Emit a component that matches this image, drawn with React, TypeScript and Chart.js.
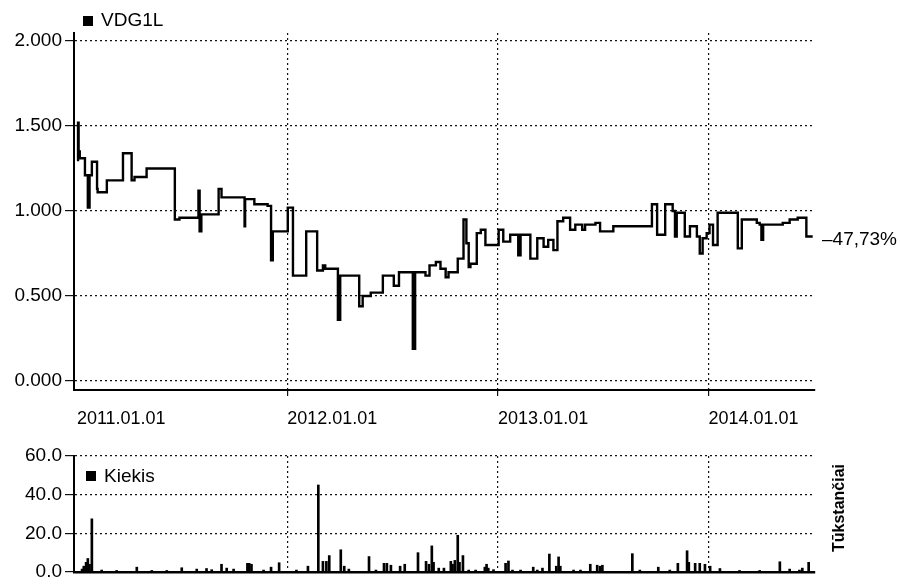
import React, { useEffect, useRef } from "react";
import { Chart, registerables } from "chart.js";

Chart.register(...registerables);

// ---------- data ----------
const seriesName = "VDG1L";
const volumeName = "Kiekis";
const volumeUnit = "Tūkstančiai";
const changeLabel = "\u201347,73%";

const yearTicks = ["2011-01-01", "2012-01-01", "2013-01-01", "2014-01-01"];
const priceTicks = [0, 0.5, 1, 1.5, 2];
const volumeTicks = [0, 20, 40, 60];
const axisStart = "2010-12-27";
const axisEnd = "2014-07-05";

const priceDates = [
  "2011-01-01", "2011-01-03", "2011-01-04", "2011-01-06", "2011-01-15", "2011-01-20", "2011-01-23", "2011-01-27",
  "2011-02-05", "2011-02-06", "2011-02-22", "2011-03-22", "2011-04-06", "2011-04-11", "2011-05-02", "2011-06-20",
  "2011-06-28", "2011-07-31", "2011-08-02", "2011-08-05", "2011-09-04", "2011-09-09", "2011-10-19", "2011-10-20",
  "2011-11-05", "2011-11-28", "2011-12-04", "2011-12-07", "2012-01-02", "2012-01-11", "2012-02-03", "2012-02-22",
  "2012-03-03", "2012-03-07", "2012-03-29", "2012-04-02", "2012-05-05", "2012-05-11", "2012-05-25", "2012-06-15",
  "2012-07-04", "2012-07-13", "2012-08-06", "2012-08-10", "2012-08-28", "2012-09-04", "2012-09-15", "2012-09-23",
  "2012-10-02", "2012-10-07", "2012-10-23", "2012-11-02", "2012-11-07", "2012-11-11", "2012-11-14", "2012-11-25",
  "2012-12-02", "2012-12-10", "2013-01-02", "2013-01-10", "2013-01-22", "2013-02-05", "2013-02-09", "2013-02-26",
  "2013-03-10", "2013-03-21", "2013-03-29", "2013-04-07", "2013-04-14", "2013-04-24", "2013-05-06", "2013-05-15",
  "2013-05-27", "2013-06-01", "2013-06-19", "2013-06-27", "2013-07-20", "2013-09-25", "2013-10-04", "2013-10-18",
  "2013-10-31", "2013-11-04", "2013-11-07", "2013-11-21", "2013-11-30", "2013-12-12", "2013-12-17", "2013-12-22",
  "2013-12-29", "2014-01-03", "2014-01-09", "2014-01-17", "2014-02-21", "2014-02-28", "2014-03-26", "2014-03-31",
  "2014-04-03", "2014-04-06", "2014-05-10", "2014-05-22", "2014-06-05", "2014-06-20", "2014-07-01",
];
const priceValues = [
  1.30, 1.52, 1.35, 1.31, 1.21, 1.02, 1.21, 1.29,
  1.13, 1.11, 1.18, 1.34, 1.18, 1.20, 1.25, 0.95,
  0.96, 1.12, 0.88, 0.98, 1.13, 1.08, 0.91, 1.07,
  1.04, 1.03, 0.71, 0.88, 1.02, 0.62, 0.88, 0.65,
  0.68, 0.66, 0.36, 0.62, 0.44, 0.50, 0.52, 0.62,
  0.56, 0.64, 0.19, 0.64, 0.62, 0.68, 0.70, 0.66,
  0.61, 0.64, 0.72, 0.95, 0.81, 0.67, 0.69, 0.87,
  0.89, 0.80, 0.89, 0.82, 0.86, 0.74, 0.86, 0.72,
  0.84, 0.79, 0.83, 0.77, 0.94, 0.96, 0.89, 0.92,
  0.89, 0.92, 0.93, 0.88, 0.91, 1.04, 0.86, 1.04,
  1.00, 0.85, 0.99, 0.85, 0.91, 0.85, 0.75, 0.84,
  0.87, 0.92, 0.80, 0.99, 0.78, 0.95, 0.93, 0.92,
  0.83, 0.92, 0.93, 0.95, 0.96, 0.85, 0.85,
];

const volumeDates = [
  "2011-01-10", "2011-01-13", "2011-01-17", "2011-01-20", "2011-01-23", "2011-01-27", "2011-02-13", "2011-03-11",
  "2011-04-15", "2011-05-11", "2011-06-06", "2011-07-02", "2011-07-28", "2011-08-14", "2011-08-23", "2011-09-09",
  "2011-09-18", "2011-09-30", "2011-10-24", "2011-10-27", "2011-10-31", "2011-11-21", "2011-12-04", "2011-12-18",
  "2012-01-17", "2012-02-06", "2012-02-24", "2012-03-03", "2012-03-09", "2012-03-14", "2012-04-03", "2012-04-09",
  "2012-04-17", "2012-05-22", "2012-06-03", "2012-06-17", "2012-06-22", "2012-06-29", "2012-07-15", "2012-07-23",
  "2012-08-15", "2012-08-29", "2012-09-03", "2012-09-08", "2012-09-11", "2012-09-20", "2012-09-29", "2012-10-11",
  "2012-10-14", "2012-10-18", "2012-10-23", "2012-10-26", "2012-11-01", "2012-11-11", "2012-11-23", "2012-12-09",
  "2012-12-12", "2012-12-15", "2012-12-24", "2013-01-14", "2013-01-19", "2013-01-26", "2013-02-09", "2013-03-03",
  "2013-03-10", "2013-03-19", "2013-03-31", "2013-04-12", "2013-04-16", "2013-04-19", "2013-05-12", "2013-05-24",
  "2013-06-10", "2013-06-22", "2013-06-27", "2013-07-01", "2013-08-22", "2013-09-04", "2013-10-06", "2013-10-26",
  "2013-11-09", "2013-11-25", "2013-11-28", "2013-12-09", "2013-12-17", "2013-12-26", "2014-01-04", "2014-01-21",
  "2014-02-24", "2014-03-31", "2014-05-05", "2014-05-22", "2014-06-08", "2014-06-13", "2014-06-24",
];
const volumeValues = [
  1.5, 3, 5, 7, 4, 27.5, 1, 0.8,
  2.5, 0.8, 0.8, 2.2, 1.5, 1.8, 1.2, 4,
  2, 1.5, 4.5, 4.5, 4, 1, 2.5, 4.8,
  1, 3, 45, 5.5, 5.5, 8.5, 11.5, 3,
  1.5, 8, 1, 4.5, 4.5, 3.5, 3, 4,
  10, 5.5, 4, 13.5, 5, 2, 2, 5.5,
  4, 6, 19, 5, 8.5, 1, 1, 2.5,
  4, 2, 1.2, 4.5, 5.7, 1, 1, 2.5,
  1, 2, 9.3, 3, 7.8, 3, 1, 1,
  4, 3.5, 3, 3.5, 9.5, 1, 2.5, 1,
  4.5, 11, 5, 4.5, 4.5, 4, 3, 1.8,
  0.8, 0.8, 5.3, 1.5, 1, 2, 5,
];

// ---------- helpers ----------
const FONT = "'Liberation Sans', Arial, sans-serif";
const ms = (s: string) => Date.UTC(+s.slice(0, 4), +s.slice(5, 7) - 1, +s.slice(8, 10));
const fmtDate = (v: number) => {
  const d = new Date(v);
  const p = (n: number) => String(n).padStart(2, "0");
  return `${d.getUTCFullYear()}.${p(d.getUTCMonth() + 1)}.${p(d.getUTCDate())}`;
};
const GRID = "#111";
const DASH = [2, 3];
const TEXT = "#000";

const W = 900;
const TOP_H = 440;
const BOT_TOP = 440;
const BOT_H = 147;
const PLOT_LEFT = 74;
const PLOT_RIGHT = 815;

export default function App() {
  const topRef = useRef<HTMLCanvasElement | null>(null);
  const botRef = useRef<HTMLCanvasElement | null>(null);

  useEffect(() => {
    const xMin = ms(axisStart);
    const xMax = ms(axisEnd);

    const topOverlay = {
      id: "topOverlay",
      afterDraw(chart: any) {
        const { ctx, chartArea, scales } = chart;
        ctx.save();
        ctx.fillStyle = TEXT;
        ctx.fillRect(83, 16, 10, 10);
        ctx.font = `19px ${FONT}`;
        ctx.textBaseline = "middle";
        ctx.textAlign = "left";
        ctx.fillText(seriesName, 101, 21);
        const last = priceValues[priceValues.length - 1];
        const y = scales.y.getPixelForValue(last);
        ctx.fillText(changeLabel, chartArea.right + 7, y + 3);
        ctx.restore();
      },
    };

    const botOverlay = {
      id: "botOverlay",
      afterDraw(chart: any) {
        const { ctx, chartArea } = chart;
        ctx.save();
        ctx.fillStyle = TEXT;
        ctx.fillRect(86, chartArea.top + 15, 10, 10);
        ctx.font = `19px ${FONT}`;
        ctx.textBaseline = "middle";
        ctx.textAlign = "left";
        ctx.fillText(volumeName, 104, chartArea.top + 21);
        ctx.translate(840, chartArea.top + 52);
        ctx.rotate(-Math.PI / 2);
        ctx.textAlign = "center";
        ctx.font = `bold 16px ${FONT}`;
        ctx.fillText(volumeUnit, 0, 0);
        ctx.restore();
      },
    };

    const xGridColor = (c: any) => (c.index === 0 ? "rgba(0,0,0,0)" : GRID);

    const top = new Chart(topRef.current as HTMLCanvasElement, {
      type: "line",
      data: {
        datasets: [
          {
            label: seriesName,
            data: priceDates.map((d, i) => ({ x: ms(d), y: priceValues[i] })),
            stepped: true,
            borderColor: "#000",
            borderWidth: 2.4,
            pointRadius: 0,
            fill: false,
          },
        ],
      },
      options: {
        animation: false,
        responsive: false,
        maintainAspectRatio: false,
        layout: { padding: { top: 33, right: W - PLOT_RIGHT, left: 0, bottom: 0 } },
        plugins: { legend: { display: false }, tooltip: { enabled: false } },
        scales: {
          x: {
            type: "linear",
            min: xMin,
            max: xMax,
            afterBuildTicks: (s: any) => {
              s.ticks = yearTicks.map((d) => ({ value: ms(d) }));
            },
            afterFit: (s: any) => {
              s.height = TOP_H - 390;
            },
            ticks: {
              callback: (v: any) => fmtDate(Number(v)),
              align: "start",
              maxRotation: 0,
              minRotation: 0,
              autoSkip: false,
              padding: 12,
              color: TEXT,
              font: { family: FONT, size: 18 },
            },
            grid: { color: xGridColor, lineWidth: 1.2, tickLength: 6 },
            border: { display: true, color: "#000", width: 2, dash: DASH },
          },
          y: {
            min: -0.053,
            max: 2.047,
            afterBuildTicks: (s: any) => {
              s.ticks = priceTicks.map((v) => ({ value: v }));
            },
            afterFit: (s: any) => {
              s.width = PLOT_LEFT;
            },
            ticks: {
              callback: (v: any) => Number(v).toFixed(3),
              padding: 3,
              color: TEXT,
              font: { family: FONT, size: 19 },
            },
            grid: { color: GRID, lineWidth: 1.2, tickLength: 9 },
            border: { display: true, color: "#000", width: 2, dash: DASH },
          },
        },
      } as any,
      plugins: [topOverlay],
    });

    const bot = new Chart(botRef.current as HTMLCanvasElement, {
      type: "bar",
      data: {
        datasets: [
          {
            label: volumeName,
            data: volumeDates.map((d, i) => ({ x: ms(d), y: volumeValues[i] })),
            backgroundColor: "#000",
            borderWidth: 0,
            barThickness: 2,
          },
        ],
      },
      options: {
        animation: false,
        responsive: false,
        maintainAspectRatio: false,
        layout: { padding: { top: 16, right: W - PLOT_RIGHT, left: 0, bottom: 0 } },
        plugins: { legend: { display: false }, tooltip: { enabled: false } },
        scales: {
          x: {
            type: "linear",
            min: xMin,
            max: xMax,
            offset: false,
            afterBuildTicks: (s: any) => {
              s.ticks = yearTicks.map((d) => ({ value: ms(d) }));
            },
            afterFit: (s: any) => {
              s.height = BOT_H - 132;
            },
            ticks: { display: false },
            grid: { color: xGridColor, lineWidth: 1.2, offset: false, drawTicks: false },
            border: { display: true, color: "#000", width: 2.5, dash: DASH },
          },
          y: {
            min: 0,
            max: 60,
            afterBuildTicks: (s: any) => {
              s.ticks = volumeTicks.map((v) => ({ value: v }));
            },
            afterFit: (s: any) => {
              s.width = PLOT_LEFT;
            },
            ticks: {
              callback: (v: any) => Number(v).toFixed(1),
              padding: 3,
              color: TEXT,
              font: { family: FONT, size: 19 },
            },
            grid: { color: GRID, lineWidth: 1.2, tickLength: 9 },
            border: { display: true, color: "#000", width: 2, dash: DASH },
          },
        },
      } as any,
      plugins: [botOverlay],
    });

    return () => {
      top.destroy();
      bot.destroy();
    };
  }, []);

  return (
    <div style={{ position: "absolute", left: 0, top: 0, width: W, height: 587, background: "#fff", overflow: "hidden" }}>
      <canvas ref={topRef} width={W} height={TOP_H} style={{ position: "absolute", left: 0, top: 0, display: "block" }} />
      <canvas ref={botRef} width={W} height={BOT_H} style={{ position: "absolute", left: 0, top: BOT_TOP, display: "block" }} />
    </div>
  );
}
